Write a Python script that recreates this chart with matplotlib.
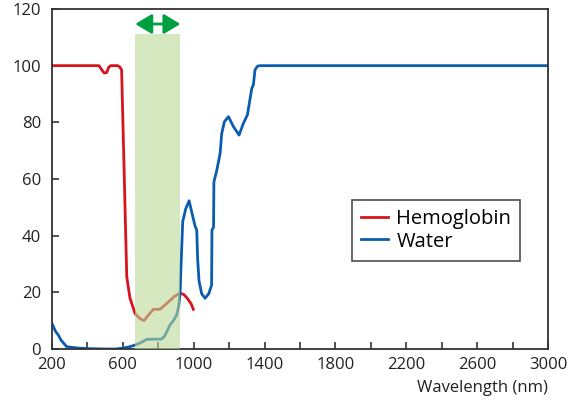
"Absorption of hemoglobin and water vs. wavelength, with the near-infrared window"

import matplotlib
matplotlib.use("Agg")
import matplotlib.pyplot as plt
from matplotlib.patches import FancyArrowPatch
import numpy as np

# hemoglobin curve (nm, value)
hb_nm = [200, 465, 480, 495, 509, 520, 531, 570, 583, 593, 622, 640, 669, 695,
         719, 745, 772, 810, 850, 890, 923, 945, 965, 985, 998]
hb_val = [100, 100, 98.6, 97.4, 97.6, 99.4, 100, 100, 99.5, 98.5, 25.5, 18, 12.5,
          10.8, 10, 12, 14, 14, 16.2, 18.5, 19.7, 19.2, 17.8, 16, 14]

# water curve (nm, value)
w_nm = [200, 220, 236, 250, 283, 350, 420, 500, 560, 600, 640, 669, 700, 735,
        819, 835, 848, 866, 885, 904, 915, 923, 930, 938, 955, 974, 990, 1007,
        1017, 1022, 1030, 1045, 1064, 1085, 1101, 1103, 1112, 1114, 1130, 1149,
        1158, 1173, 1196, 1224, 1256, 1280, 1303, 1320, 1328, 1337, 1346, 1360,
        1374, 3000]
w_val = [9, 6.2, 4.9, 3.2, 0.8, 0.3, 0.1, 0, 0, 0.3, 0.8, 1.4, 2.2, 3.4,
         3.5, 4.5, 6.1, 8.5, 10, 12, 15, 19.7, 32, 45, 49.5, 52.3, 48, 43.5,
         42, 32, 24, 19.5, 17.9, 19.5, 22.6, 42, 43, 59, 63, 69,
         76, 80.2, 82, 78.5, 75.5, 79.6, 82.6, 89, 92, 93.3, 98.5, 99.8,
         100, 100]

# therapeutic window
window_nm = (670, 925)
window_top = 111
arrow_y = 114.7

x_ticks = list(range(200, 3001, 200))
x_labels = [str(t) if (t - 200) % 400 == 0 else "" for t in x_ticks]
y_ticks = [0, 20, 40, 60, 80, 100, 120]

plt.rcParams['font.family'] = ['Open Sans', 'DejaVu Sans']

fig = plt.figure(figsize=(5.81, 4.01), dpi=100)
ax = fig.add_axes([0.0895, 0.1297, 0.8537, 0.8479])

red = '#d7141e'
blue = '#0a5cb0'
ax.plot(hb_nm, hb_val, color=red, lw=2, label='Hemoglobin', zorder=2,
        solid_joinstyle='round')
ax.plot(w_nm, w_val, color=blue, lw=2, label='Water', zorder=2,
        solid_joinstyle='round')

# green band sits over the curves so they show through tinted
ax.fill_between(window_nm, 0, window_top, color='#bcd996', alpha=0.6,
                lw=0, zorder=3)
arr = FancyArrowPatch((window_nm[0], arrow_y), (window_nm[1], arrow_y),
                      arrowstyle='<|-|>,head_length=0.5,head_width=0.3',
                      mutation_scale=20, color='#00a040', lw=2, zorder=4,
                      shrinkA=0, shrinkB=0)
ax.add_patch(arr)

ax.set_xlim(200, 3000)
ax.set_ylim(0, 120)
ax.set_xticks(x_ticks)
ax.set_xticklabels(x_labels)
ax.set_yticks(y_ticks)
ax.tick_params(direction='in', length=5, width=1.2, color='#333333',
               labelsize=12, labelcolor='#222222', top=False, right=False)
ax.tick_params(axis='x', pad=6)
ax.tick_params(axis='y', pad=8)
for s in ax.spines.values():
    s.set_color('#333333')
    s.set_linewidth(1.3)

ax.set_xlabel('Wavelength (nm)', loc='right', fontsize=12, color='#222222',
              labelpad=5)

leg = ax.legend(loc='upper left', bbox_to_anchor=(0.605, 0.438), fontsize=14.5,
                frameon=True, fancybox=False, edgecolor='#222222',
                handlelength=1.35, handletextpad=0.4, borderpad=0.45,
                labelspacing=0.12, borderaxespad=0)
leg.get_frame().set_linewidth(1.2)

fig.savefig('out.png', dpi=100)
